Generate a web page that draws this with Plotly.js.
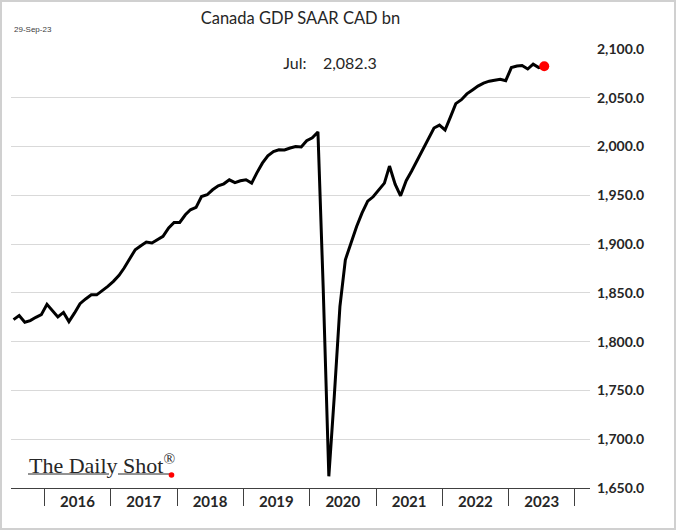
<!DOCTYPE html>
<html><head><meta charset="utf-8">
<script src="https://cdn.plot.ly/plotly-3.0.1.min.js"></script>
<style>
html,body{margin:0;padding:0;background:#fff;}
#chart{width:676px;height:530px;}
#frame{position:absolute;left:0;top:0;width:676px;height:530px;box-sizing:border-box;border:2px solid #d0d0d0;pointer-events:none;}
</style>
</head><body>
<div id="chart"></div><div id="frame"></div>
<script>
// Monthly series starts Jul 2015
const startYear = 2015, startMonth = 7;
const gdp = [
 1822.6,1826.7,1819.9,1821.6,1825.0,1827.7,           // Jul-Dec 2015
 1838.3,1832.0,1825.4,1830.0,1820.6,1829.5,1839.0,1843.8,1848.0,1848.0,1852.0,1856.7, // 2016
 1861.8,1868.0,1875.5,1885.7,1894.3,1898.4,1902.1,1901.1,1904.5,1907.9,1916.5,1922.2, // 2017
 1922.2,1930.1,1935.2,1937.6,1948.8,1950.6,1955.7,1959.8,1961.8,1965.9,1963.0,1964.9, // 2018
 1965.9,1962.5,1972.8,1983.0,1990.5,1994.9,1996.6,1996.5,1998.5,2000.0,1999.5,2006.0, // 2019
 2009.0,2015.0,1855.0,1662.0,1744.0,1836.0,1884.0,1901.0,1918.0,1932.0,1944.0,1948.5, // 2020
 1956.0,1962.5,1980.0,1961.5,1949.5,1965.0,1975.0,1986.0,1996.0,2008.0,2019.0,2022.0, // 2021
 2017.0,2031.0,2044.0,2048.0,2054.0,2058.0,2062.0,2065.0,2067.0,2068.0,2069.0,2067.5, // 2022
 2081.0,2082.5,2083.0,2079.5,2084.5,2081.0,2082.3  // Jan-Jul 2023
];
const monthNames = ['Jan','Feb','Mar','Apr','May','Jun','Jul','Aug','Sep','Oct','Nov','Dec'];
const years = ['2016','2017','2018','2019','2020','2021','2022','2023'];
const yearBounds = ['2016-01-01','2017-01-01','2018-01-01','2019-01-01','2020-01-01','2021-01-01','2022-01-01','2023-01-01','2024-01-01'];
const yearMids = years.map(y => y + '-07-02');
const yTicks = [1650,1700,1750,1800,1850,1900,1950,2000,2050,2100];
const asOf = '29-Sep-23';
const chartTitle = 'Canada GDP SAAR CAD bn';

const dates = gdp.map((_, i) => {
  const t = startMonth - 1 + i;
  const y = startYear + Math.floor(t / 12);
  const m = t % 12 + 1;
  return y + '-' + String(m).padStart(2, '0') + '-16';
});
const lastIdx = gdp.length - 1;
const lastMonth = monthNames[(startMonth - 1 + lastIdx) % 12];
const lastVal = gdp[lastIdx].toLocaleString('en-US', {minimumFractionDigits:1, maximumFractionDigits:1});

const xRange = ['2015-07-02', '2024-03-24'];
const tickFont = {family:'Lato, Open Sans, sans-serif', size:14, color:'#262626', weight:'bold'};
const yearFont = {family:'Lato, Open Sans, sans-serif', size:15, color:'#262626', weight:'bold'};

const traces = [
  {x: dates, y: gdp, xaxis:'x2', type:'scatter', mode:'lines', line:{color:'rgba(0,0,0,0)', width:0}, hoverinfo:'skip'},
  {x: dates, y: gdp, type:'scatter', mode:'lines', line:{color:'#000000', width:3}, hoverinfo:'skip'},
  {x: [dates[lastIdx]], y: [gdp[lastIdx]], type:'scatter', mode:'markers', marker:{color:'#ff0000', size:10}, hoverinfo:'skip'}
];

const layout = {
  width:676, height:530,
  margin:{l:11, r:86, t:49, b:42},
  paper_bgcolor:'#ffffff', plot_bgcolor:'#ffffff',
  showlegend:false,
  title:{text: chartTitle, xref:'paper', x:0.5, xanchor:'center', yref:'container', y:1-18/530, yanchor:'middle',
         font:{family:'Lato, Open Sans, sans-serif', size:16.5, color:'#262626'}},
  xaxis:{type:'date', range:xRange, tickmode:'array', tickvals:yearBounds,
         ticks:'outside', ticklen:17, tickwidth:1, tickcolor:'#404040',
         showline:true, linecolor:'#404040', linewidth:1, showgrid:false, zeroline:false, showticklabels:false, fixedrange:true},
  xaxis2:{type:'date', range:xRange, overlaying:'x', anchor:'y', side:'bottom', tickmode:'array', tickvals:yearMids, ticktext:years,
          ticks:'', showline:false, showgrid:false, zeroline:false, tickfont:yearFont, ticklabelstandoff:3, fixedrange:true},
  yaxis:{range:[1650, 2100], side:'right', tickmode:'array', tickvals:yTicks, tickformat:',.1f', ticks:'',
         showgrid:true, gridcolor:'#d9d9d9', gridwidth:1, zeroline:false, showline:false, tickfont:tickFont,
         ticklabelstandoff:6, fixedrange:true},
  annotations:[
    {text: asOf, xref:'paper', yref:'paper', x:1/579, y:(488-29)/439, xanchor:'left', yanchor:'middle', showarrow:false,
     font:{family:'Liberation Sans Narrow, Liberation Sans, sans-serif', size:8, color:'#404040'}},
    {text: lastMonth + ':\u00a0\u00a0\u00a0\u00a0' + lastVal, xref:'paper', yref:'paper', x:(330-11)/579, y:(488-62)/439,
     xanchor:'center', yanchor:'middle', showarrow:false, bgcolor:'#ffffff', width:128, height:26,
     font:{family:'Lato, Open Sans, sans-serif', size:16, color:'#262626'}},
    {text: 'The Daily Shot<sup>®</sup>', xref:'paper', yref:'paper', x:(27-11)/579, y:(488-464)/439, xanchor:'left', yanchor:'middle',
     showarrow:false, font:{family:'Liberation Serif, DejaVu Serif, serif', size:22, color:'#262626'}}
  ],
  shapes:[
    {type:'line', xref:'paper', yref:'paper', x0:(28-11)/579, x1:(109-11)/579, y0:(488-474)/439, y1:(488-474)/439, line:{color:'#262626', width:1}},
    {type:'line', xref:'paper', yref:'paper', x0:(118-11)/579, x1:(170-11)/579, y0:(488-474)/439, y1:(488-474)/439, line:{color:'#262626', width:1}},
    {type:'circle', xref:'paper', yref:'paper', xsizemode:'pixel', ysizemode:'pixel', xanchor:(171.5-11)/579, yanchor:(488-475)/439,
     x0:-2.8, x1:2.8, y0:-2.8, y1:2.8, fillcolor:'#ff0000', line:{width:0}}
  ]
};

Plotly.newPlot('chart', traces, layout, {displayModeBar:false, staticPlot:true});
</script>
</body></html>
